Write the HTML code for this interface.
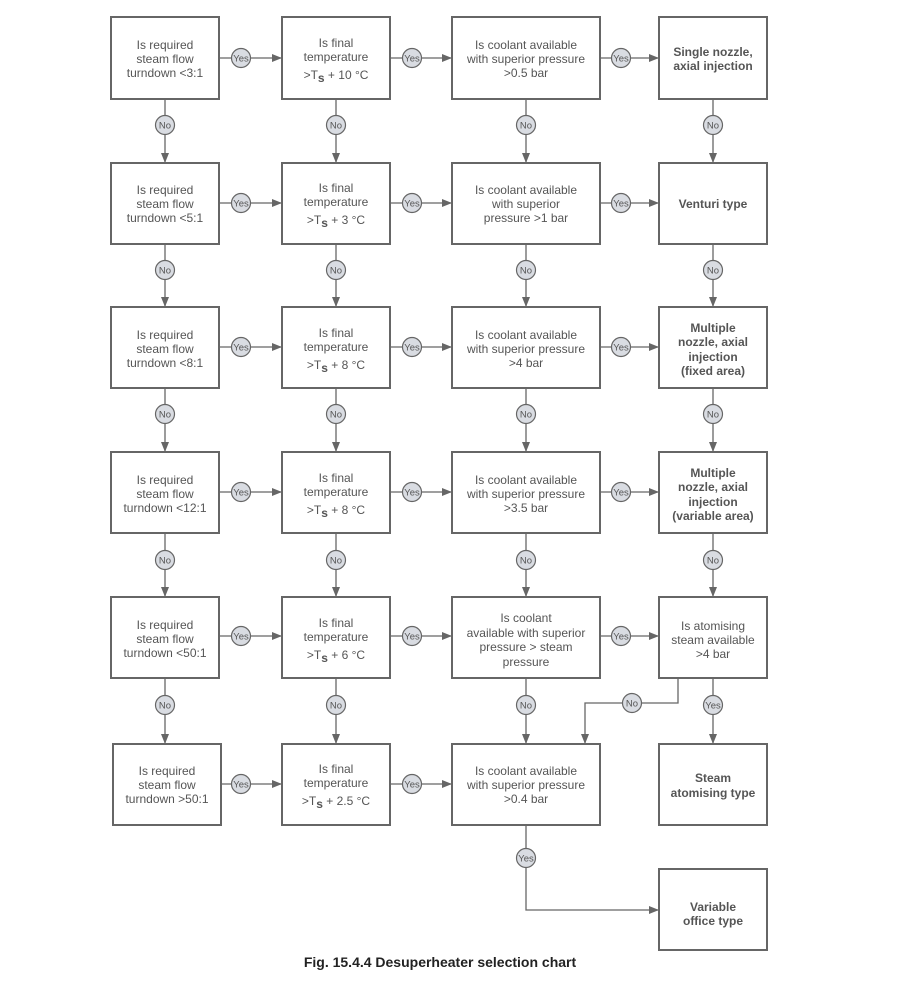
<!DOCTYPE html>
<html><head><meta charset="utf-8"><style>
html,body{margin:0;padding:0;background:#fff;}
svg{display:block;font-family:"Liberation Sans",Arial,sans-serif;}
.b{fill:#fff;stroke:#666;stroke-width:2}
.l{stroke:#666;stroke-width:1.3;fill:none}
.c{fill:#d9dce2;stroke:#666;stroke-width:1.2}
.t{fill:#555;font-size:12px;text-anchor:middle}
.tb{fill:#555;font-size:12px;text-anchor:middle;font-weight:bold}
.s{fill:#555;font-size:9.5px;text-anchor:middle}
</style></head><body>
<svg width="900" height="982" viewBox="0 0 900 982">
<defs><marker id="a" markerWidth="10" markerHeight="8" refX="9" refY="4" orient="auto" markerUnits="userSpaceOnUse"><path d="M0,0 L10,4 L0,8 z" fill="#666"/></marker></defs>

<!-- horizontal connectors -->
<g class="l" marker-end="url(#a)">
<line x1="219" y1="58" x2="281" y2="58"/><line x1="390" y1="58" x2="451" y2="58"/><line x1="600" y1="58" x2="658" y2="58"/>
<line x1="219" y1="203" x2="281" y2="203"/><line x1="390" y1="203" x2="451" y2="203"/><line x1="600" y1="203" x2="658" y2="203"/>
<line x1="219" y1="347" x2="281" y2="347"/><line x1="390" y1="347" x2="451" y2="347"/><line x1="600" y1="347" x2="658" y2="347"/>
<line x1="219" y1="492" x2="281" y2="492"/><line x1="390" y1="492" x2="451" y2="492"/><line x1="600" y1="492" x2="658" y2="492"/>
<line x1="219" y1="636" x2="281" y2="636"/><line x1="390" y1="636" x2="451" y2="636"/><line x1="600" y1="636" x2="658" y2="636"/>
<line x1="221" y1="784" x2="281" y2="784"/><line x1="390" y1="784" x2="451" y2="784"/>
</g>
<!-- vertical connectors -->
<g class="l" marker-end="url(#a)">
<line x1="165" y1="99" x2="165" y2="162"/><line x1="336" y1="99" x2="336" y2="162"/><line x1="526" y1="99" x2="526" y2="162"/><line x1="713" y1="99" x2="713" y2="162"/>
<line x1="165" y1="244" x2="165" y2="306"/><line x1="336" y1="244" x2="336" y2="306"/><line x1="526" y1="244" x2="526" y2="306"/><line x1="713" y1="244" x2="713" y2="306"/>
<line x1="165" y1="388" x2="165" y2="451"/><line x1="336" y1="388" x2="336" y2="451"/><line x1="526" y1="388" x2="526" y2="451"/><line x1="713" y1="388" x2="713" y2="451"/>
<line x1="165" y1="533" x2="165" y2="596"/><line x1="336" y1="533" x2="336" y2="596"/><line x1="526" y1="533" x2="526" y2="596"/><line x1="713" y1="533" x2="713" y2="596"/>
<line x1="165" y1="678" x2="165" y2="743"/><line x1="336" y1="678" x2="336" y2="743"/><line x1="526" y1="678" x2="526" y2="743"/><line x1="713" y1="678" x2="713" y2="743"/>
<polyline points="678,678 678,703 585,703 585,743"/>
<polyline points="526,825 526,910 658,910"/>
</g>

<!-- boxes -->
<g class="b">
<rect x="111" y="17" width="108" height="82"/><rect x="282" y="17" width="108" height="82"/><rect x="452" y="17" width="148" height="82"/><rect x="659" y="17" width="108" height="82"/>
<rect x="111" y="163" width="108" height="81"/><rect x="282" y="163" width="108" height="81"/><rect x="452" y="163" width="148" height="81"/><rect x="659" y="163" width="108" height="81"/>
<rect x="111" y="307" width="108" height="81"/><rect x="282" y="307" width="108" height="81"/><rect x="452" y="307" width="148" height="81"/><rect x="659" y="307" width="108" height="81"/>
<rect x="111" y="452" width="108" height="81"/><rect x="282" y="452" width="108" height="81"/><rect x="452" y="452" width="148" height="81"/><rect x="659" y="452" width="108" height="81"/>
<rect x="111" y="597" width="108" height="81"/><rect x="282" y="597" width="108" height="81"/><rect x="452" y="597" width="148" height="81"/><rect x="659" y="597" width="108" height="81"/>
<rect x="113" y="744" width="108" height="81"/><rect x="282" y="744" width="108" height="81"/><rect x="452" y="744" width="148" height="81"/><rect x="659" y="744" width="108" height="81"/>
<rect x="659" y="869" width="108" height="81"/>
</g>

<!-- circles -->
<g class="c">
<circle cx="241" cy="58" r="9.5"/><circle cx="412" cy="58" r="9.5"/><circle cx="621" cy="58" r="9.5"/>
<circle cx="241" cy="203" r="9.5"/><circle cx="412" cy="203" r="9.5"/><circle cx="621" cy="203" r="9.5"/>
<circle cx="241" cy="347" r="9.5"/><circle cx="412" cy="347" r="9.5"/><circle cx="621" cy="347" r="9.5"/>
<circle cx="241" cy="492" r="9.5"/><circle cx="412" cy="492" r="9.5"/><circle cx="621" cy="492" r="9.5"/>
<circle cx="241" cy="636" r="9.5"/><circle cx="412" cy="636" r="9.5"/><circle cx="621" cy="636" r="9.5"/>
<circle cx="241" cy="784" r="9.5"/><circle cx="412" cy="784" r="9.5"/>
<circle cx="165" cy="125" r="9.5"/><circle cx="336" cy="125" r="9.5"/><circle cx="526" cy="125" r="9.5"/><circle cx="713" cy="125" r="9.5"/>
<circle cx="165" cy="270" r="9.5"/><circle cx="336" cy="270" r="9.5"/><circle cx="526" cy="270" r="9.5"/><circle cx="713" cy="270" r="9.5"/>
<circle cx="165" cy="414" r="9.5"/><circle cx="336" cy="414" r="9.5"/><circle cx="526" cy="414" r="9.5"/><circle cx="713" cy="414" r="9.5"/>
<circle cx="165" cy="560" r="9.5"/><circle cx="336" cy="560" r="9.5"/><circle cx="526" cy="560" r="9.5"/><circle cx="713" cy="560" r="9.5"/>
<circle cx="165" cy="705" r="9.5"/><circle cx="336" cy="705" r="9.5"/><circle cx="526" cy="705" r="9.5"/><circle cx="713" cy="705" r="9.5"/>
<circle cx="632" cy="703" r="9.5"/><circle cx="526" cy="858" r="9.5"/>
</g>
<g class="s">
<text x="241" y="61.5">Yes</text><text x="412" y="61.5">Yes</text><text x="621" y="61.5">Yes</text>
<text x="241" y="206.5">Yes</text><text x="412" y="206.5">Yes</text><text x="621" y="206.5">Yes</text>
<text x="241" y="350.5">Yes</text><text x="412" y="350.5">Yes</text><text x="621" y="350.5">Yes</text>
<text x="241" y="495.5">Yes</text><text x="412" y="495.5">Yes</text><text x="621" y="495.5">Yes</text>
<text x="241" y="639.5">Yes</text><text x="412" y="639.5">Yes</text><text x="621" y="639.5">Yes</text>
<text x="241" y="787.5">Yes</text><text x="412" y="787.5">Yes</text>
<text x="165" y="128.5">No</text><text x="336" y="128.5">No</text><text x="526" y="128.5">No</text><text x="713" y="128.5">No</text>
<text x="165" y="273.5">No</text><text x="336" y="273.5">No</text><text x="526" y="273.5">No</text><text x="713" y="273.5">No</text>
<text x="165" y="417.5">No</text><text x="336" y="417.5">No</text><text x="526" y="417.5">No</text><text x="713" y="417.5">No</text>
<text x="165" y="563.5">No</text><text x="336" y="563.5">No</text><text x="526" y="563.5">No</text><text x="713" y="563.5">No</text>
<text x="165" y="708.5">No</text><text x="336" y="708.5">No</text><text x="526" y="708.5">No</text><text x="713" y="708.5">Yes</text>
<text x="632" y="706.5">No</text><text x="526" y="861.5">Yes</text>
</g>

<!-- column 1 text -->
<g class="t">
<text x="165" y="49">Is required</text><text x="165" y="63">steam flow</text><text x="165" y="77">turndown &lt;3:1</text>
<text x="165" y="194">Is required</text><text x="165" y="208">steam flow</text><text x="165" y="222">turndown &lt;5:1</text>
<text x="165" y="339">Is required</text><text x="165" y="353">steam flow</text><text x="165" y="367">turndown &lt;8:1</text>
<text x="165" y="484">Is required</text><text x="165" y="498">steam flow</text><text x="165" y="512">turndown &lt;12:1</text>
<text x="165" y="629">Is required</text><text x="165" y="643">steam flow</text><text x="165" y="657">turndown &lt;50:1</text>
<text x="167" y="775">Is required</text><text x="167" y="789">steam flow</text><text x="167" y="803">turndown &gt;50:1</text>
</g>
<!-- column 2 text -->
<g class="t">
<text x="336" y="47">Is final</text><text x="336" y="61">temperature</text>
<text x="336" y="79">&gt;T<tspan font-weight="bold" dy="3">s</tspan><tspan dy="-3"> + 10 °C</tspan></text>
<text x="336" y="192">Is final</text><text x="336" y="206">temperature</text>
<text x="336" y="224">&gt;T<tspan font-weight="bold" dy="3">s</tspan><tspan dy="-3"> + 3 °C</tspan></text>
<text x="336" y="337">Is final</text><text x="336" y="351">temperature</text>
<text x="336" y="369">&gt;T<tspan font-weight="bold" dy="3">s</tspan><tspan dy="-3"> + 8 °C</tspan></text>
<text x="336" y="482">Is final</text><text x="336" y="496">temperature</text>
<text x="336" y="514">&gt;T<tspan font-weight="bold" dy="3">s</tspan><tspan dy="-3"> + 8 °C</tspan></text>
<text x="336" y="627">Is final</text><text x="336" y="641">temperature</text>
<text x="336" y="659">&gt;T<tspan font-weight="bold" dy="3">s</tspan><tspan dy="-3"> + 6 °C</tspan></text>
<text x="336" y="773">Is final</text><text x="336" y="787">temperature</text>
<text x="336" y="805">&gt;T<tspan font-weight="bold" dy="3">s</tspan><tspan dy="-3"> + 2.5 °C</tspan></text>
</g>
<!-- column 3 text -->
<g class="t">
<text x="526" y="49">Is coolant available</text><text x="526" y="63">with superior pressure</text><text x="526" y="77">&gt;0.5 bar</text>
<text x="526" y="194">Is coolant available</text><text x="526" y="208">with superior</text><text x="526" y="222">pressure &gt;1 bar</text>
<text x="526" y="339">Is coolant available</text><text x="526" y="353">with superior pressure</text><text x="526" y="367">&gt;4 bar</text>
<text x="526" y="484">Is coolant available</text><text x="526" y="498">with superior pressure</text><text x="526" y="512">&gt;3.5 bar</text>
<text x="526" y="622">Is coolant</text><text x="526" y="637">available with superior</text><text x="526" y="651">pressure &gt; steam</text><text x="526" y="666">pressure</text>
<text x="526" y="775">Is coolant available</text><text x="526" y="789">with superior pressure</text><text x="526" y="803">&gt;0.4 bar</text>
</g>
<!-- column 4 text -->
<g class="tb">
<text x="713" y="56">Single nozzle,</text><text x="713" y="70">axial injection</text>
<text x="713" y="208">Venturi type</text>
<text x="713" y="332">Multiple</text><text x="713" y="346">nozzle, axial</text><text x="713" y="361">injection</text><text x="713" y="375">(fixed area)</text>
<text x="713" y="477">Multiple</text><text x="713" y="491">nozzle, axial</text><text x="713" y="506">injection</text><text x="713" y="520">(variable area)</text>
<text x="713" y="782">Steam</text><text x="713" y="797">atomising type</text>
<text x="713" y="911">Variable</text><text x="713" y="925">office type</text>
</g>
<g class="t">
<text x="713" y="630">Is atomising</text><text x="713" y="644">steam available</text><text x="713" y="658">&gt;4 bar</text>
</g>
<text x="440" y="967" text-anchor="middle" font-size="14" font-weight="bold" fill="#222">Fig. 15.4.4 Desuperheater selection chart</text>
</svg>
</body></html>
